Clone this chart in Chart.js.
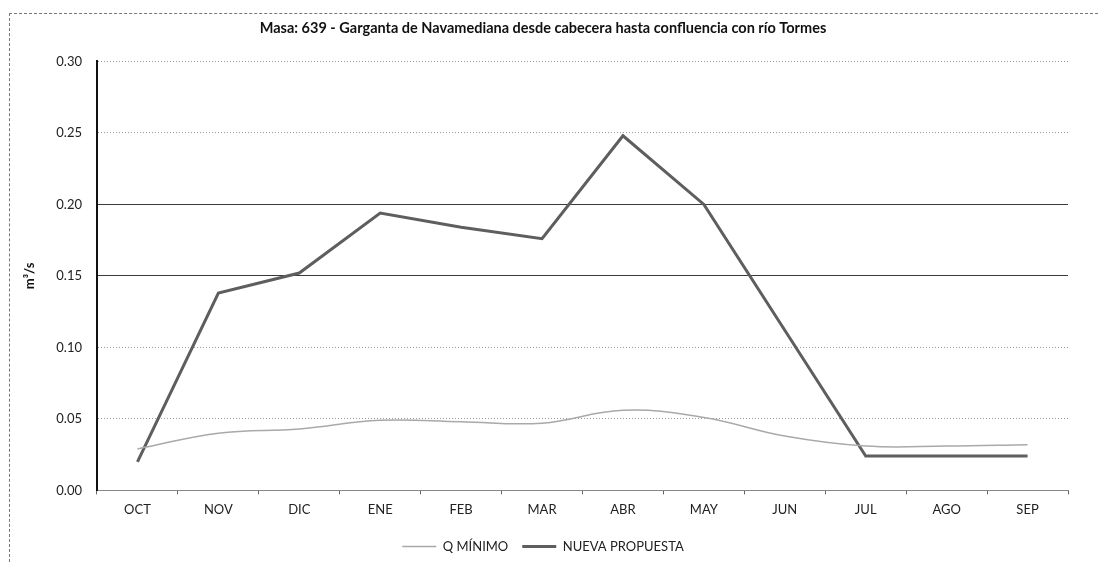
<!DOCTYPE html>
<html>
<head>
<meta charset="utf-8">
<script src="https://cdn.jsdelivr.net/npm/chart.js@4"></script>
<style>
    body { margin: 0; background: #fff; }
    #frame {
        position: absolute; left: 9px; top: 13px; width: 1088px; height: 548px;
        border-top: 1px dashed #777; border-left: 1px dashed #777;
    }
    #wrap { position: absolute; left: 0; top: 0; width: 1102px; height: 569px; }
</style>
</head>
<body>
<div id="frame"></div>
<div id="wrap"><canvas id="caudalChart"></canvas></div>
<script>
const months = ['OCT', 'NOV', 'DIC', 'ENE', 'FEB', 'MAR', 'ABR', 'MAY', 'JUN', 'JUL', 'AGO', 'SEP'];
const qMinimo = [0.029, 0.040, 0.043, 0.049, 0.048, 0.047, 0.056, 0.051, 0.038, 0.031, 0.031, 0.032];
const nuevaPropuesta = [0.020, 0.138, 0.152, 0.194, 0.184, 0.176, 0.248, 0.200, 0.112, 0.024, 0.024, 0.024];
const yTicks = [0, 0.05, 0.10, 0.15, 0.20, 0.25, 0.30];

const font = 'Lato, "Open Sans", sans-serif';

// the scanned original has two darker grid lines (0.15 and 0.20)
function isDarkLine(v) {
    return Math.abs(v - 0.15) < 1e-6 || Math.abs(v - 0.20) < 1e-6;
}

const ctx = document.getElementById('caudalChart').getContext('2d');
new Chart(ctx, {
    type: 'line',
    data: {
        labels: months,
        datasets: [{
            label: 'Q MÍNIMO',
            data: qMinimo,
            borderColor: '#a9a9a9',
            backgroundColor: '#a9a9a9',
            borderWidth: 1.5,
            tension: 0.4,
            pointRadius: 0
        }, {
            label: 'NUEVA PROPUESTA',
            data: nuevaPropuesta,
            borderColor: '#5e5e5e',
            backgroundColor: '#5e5e5e',
            borderWidth: 3,
            tension: 0,
            pointRadius: 0
        }]
    },
    options: {
        responsive: true,
        maintainAspectRatio: false,
        animation: false,
        layout: { padding: { left: 18, right: 34, top: 0, bottom: 6 } },
        plugins: {
            title: {
                display: true,
                text: 'Masa: 639 - Garganta de Navamediana desde cabecera hasta confluencia con río Tormes',
                color: '#111',
                font: { family: font, size: 14.5, weight: 'bold' },
                padding: { top: 20, bottom: 24 }
            },
            legend: {
                position: 'bottom',
                labels: {
                    color: '#222',
                    font: { family: font, size: 13 },
                    usePointStyle: true,
                    pointStyle: 'line',
                    pointStyleWidth: 34,
                    padding: 14
                }
            },
            tooltip: { enabled: false }
        },
        scales: {
            x: {
                offset: true,
                grid: {
                    offset: true,
                    drawOnChartArea: false,
                    drawTicks: true,
                    tickLength: 4,
                    color: '#666'
                },
                border: { display: true, color: '#888', width: 1, dash: [2, 1] },
                ticks: {
                    color: '#222',
                    font: { family: font, size: 13 },
                    padding: 8,
                    maxRotation: 0
                }
            },
            y: {
                min: 0,
                max: 0.30,
                afterFit: scale => { scale.width = 79; },
                afterBuildTicks: scale => { scale.ticks = yTicks.map(v => ({ value: v })); },
                grid: {
                    drawTicks: false,
                    color: c => isDarkLine(c.tick.value) ? '#3a3a3a' : '#9a9a9a',
                    lineWidth: 1
                },
                border: {
                    display: true,
                    color: '#111',
                    width: 2,
                    dash: c => (c.tick && isDarkLine(c.tick.value)) ? [] : [1, 2]
                },
                ticks: {
                    color: '#222',
                    font: { family: font, size: 13 },
                    padding: 15,
                    callback: v => v.toFixed(2)
                },
                title: {
                    display: true,
                    text: 'm³/s',
                    color: '#111',
                    font: { family: font, size: 13, weight: 'bold' },
                    padding: 4
                }
            }
        }
    }
});
</script>
</body>
</html>
